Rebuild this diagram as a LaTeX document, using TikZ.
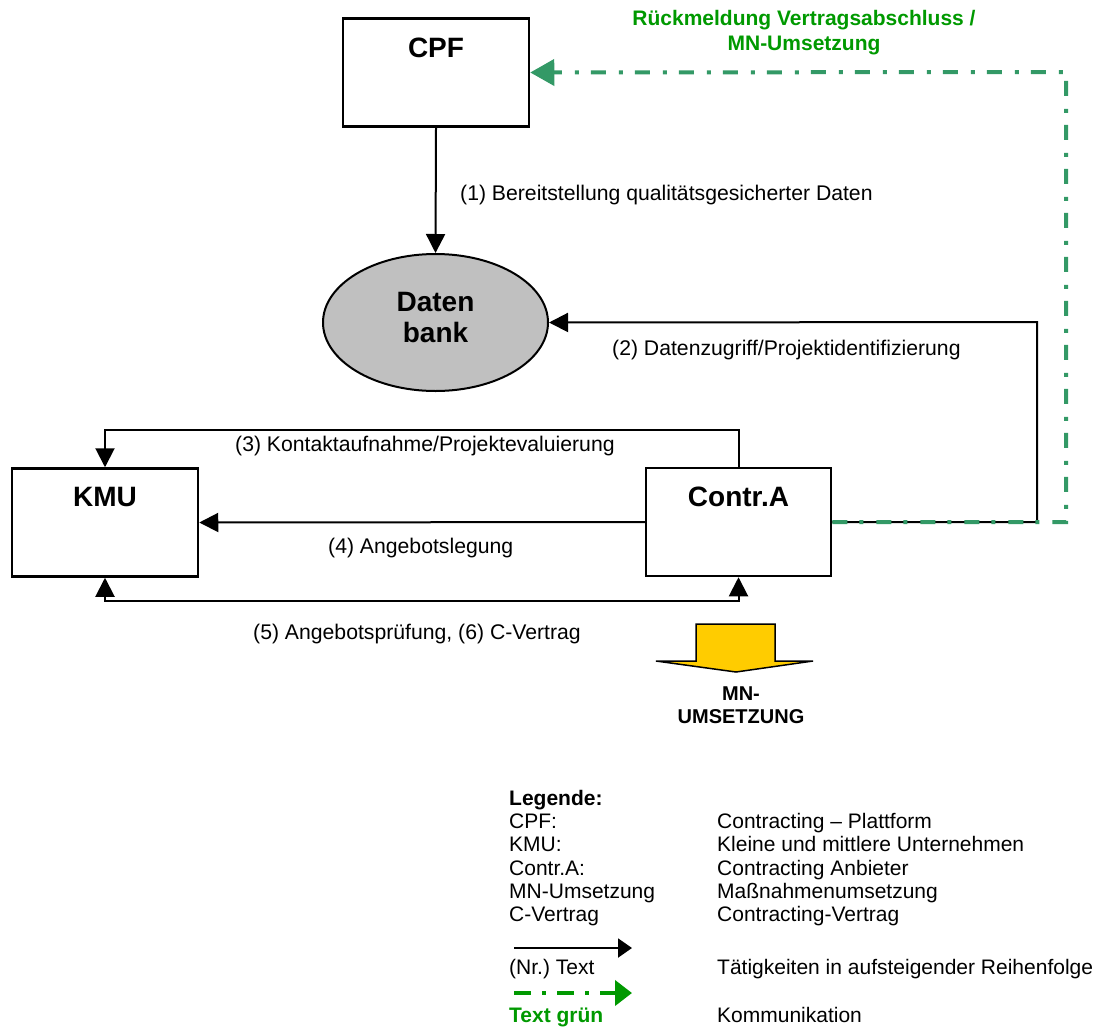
\documentclass[tikz,border=0pt]{standalone}
\usepackage{fontspec}
\setmainfont{Liberation Sans}
\usetikzlibrary{arrows.meta,shapes.geometric}
\definecolor{commgreen}{RGB}{51,153,102}
\definecolor{textgreen}{RGB}{0,153,0}
\definecolor{dbgray}{RGB}{192,192,192}
\definecolor{mnyellow}{RGB}{255,204,0}
\frenchspacing
\begin{document}
\begin{tikzpicture}[x=1pt,y=-1pt,
  actor/.style={draw=black, line width=2.5pt, fill=white, minimum width=186pt, minimum height=108pt, inner sep=0pt},
  actorlabel/.style={font=\fontsize{28}{32}\selectfont\bfseries, inner sep=0pt},
  flow/.style={line width=2pt, -{Triangle[length=19pt,width=19pt]}},
  flowboth/.style={line width=2pt, {Triangle[length=19pt,width=19pt]}-{Triangle[length=19pt,width=19pt]}},
  comm/.style={draw=commgreen, line width=4pt, dash pattern=on 15pt off 12pt on 4pt off 13pt, -{Triangle[length=24pt,width=26pt]}},
  steptext/.style={font=\fontsize{21.2}{24}\selectfont, anchor=base west, inner sep=0pt},
  legtext/.style={font=\fontsize{21}{24}\selectfont, anchor=base west, inner sep=0pt},
]
\useasboundingbox (0,0) rectangle (1099,1028);

% actors
\node[actor] (cpf) at (436,72.5) {};
\node[actorlabel] (cpft) at (436,48) {CPF};
\node[actor] (kmu) at (105,522.5) {};
\node[actorlabel] (kmut) at (105,497) {KMU};
\node[actor, minimum width=185pt] (contr) at (738.5,522) {};
\node[actorlabel] (contrt) at (738.5,497) {Contr.A};

% database
\node[ellipse, draw=black, line width=2pt, fill=dbgray, minimum width=225pt, minimum height=137pt, inner sep=0pt] (db) at (435.5,322.5) {};
\node[font=\fontsize{28}{31}\selectfont\bfseries, align=center, inner sep=0pt] (dbt) at (435.5,317.5) {Daten\\bank};

% routing points
\coordinate (c2) at (1037,322);
\coordinate (c3) at (105,430);
\coordinate (c5a) at (105,601);
\coordinate (c5b) at (738.5,601);
\coordinate (g1) at (1066,522);
\coordinate (g2) at (1066,72);

% (1)..(6) activities
\draw[flow] (cpf.south) -- (db.north);
\draw[flow] (contr.east) -| (c2) -- (db.east);
\draw[flow] (contr.north) |- (c3) -- (kmu.north);
\draw[flow] (contr.west) -- (kmu.east);
\draw[flowboth] (kmu.south) -- (c5a) -- (c5b) -- (contr.south);

% communication back to the platform
\draw[comm] (contr.east) -- (g1) -- (g2) -- (cpf.east);

% activity labels
\node[steptext] (t1) at (460,200.5) {(1) Bereitstellung qualitätsgesicherter Daten};
\node[steptext] (t2) at (612,355.5) {(2) Datenzugriff/Projektidentifizierung};
\node[steptext] (t3) at (235,451.5) {(3) Kontaktaufnahme/Projektevaluierung};
\node[steptext] (t4) at (328,553.5) {(4) Angebotslegung};
\node[steptext] (t5) at (253,639.5) {(5) Angebotsprüfung, (6) C-Vertrag};

\node[font=\fontsize{21}{25}\selectfont\bfseries, text=textgreen, align=center, inner sep=0pt] (gt) at (804,33) {Rückmeldung Vertragsabschluss /\\MN-Umsetzung};

% implementation arrow
\draw[line width=1.5pt, fill=mnyellow, line join=miter] (696,624) -- (775,624) -- (775,661) -- (813,661) -- (736,672) -- (656,661) -- (696,661) -- cycle;
\node[font=\fontsize{20}{23}\selectfont\bfseries, align=center, inner sep=0pt] (mn) at (741,705) {MN-\\UMSETZUNG};

% legend
\node[legtext, font=\fontsize{21}{24}\selectfont\bfseries] (lg) at (509,805) {Legende:};
\node[legtext] (l1a) at (509,828) {CPF:};
\node[legtext] (l1b) at (717,828) {Contracting – Plattform};
\node[legtext] (l2a) at (509,851) {KMU:};
\node[legtext] (l2b) at (717,851) {Kleine und mittlere Unternehmen};
\node[legtext] (l3a) at (509,875) {Contr.A:};
\node[legtext] (l3b) at (717,875) {Contracting Anbieter};
\node[legtext] (l4a) at (509,898) {MN-Umsetzung};
\node[legtext] (l4b) at (717,898) {Maßnahmenumsetzung};
\node[legtext] (l5a) at (509,921) {C-Vertrag};
\node[legtext] (l5b) at (717,921) {Contracting-Vertrag};

\coordinate (la1) at (514,948);
\coordinate (la2) at (632,948);
\draw[line width=2pt, -{Triangle[length=14pt,width=19pt]}] (la1) -- (la2);
\node[legtext] (l6a) at (509,974.5) {(Nr.) Text};
\node[legtext] (l6b) at (717,974.5) {Tätigkeiten in aufsteigender Reihenfolge};

\coordinate (lb1) at (514,993);
\coordinate (lb2) at (632,993);
\draw[draw=textgreen, line width=4pt, dash pattern=on 17pt off 11pt on 4pt off 11pt, -{Triangle[length=17pt,width=25pt]}] (lb1) -- (lb2);
\node[legtext, font=\fontsize{21}{24}\selectfont\bfseries, text=textgreen] (l7a) at (509,1022) {Text grün};
\node[legtext] (l7b) at (717,1022) {Kommunikation};
\end{tikzpicture}
\end{document}
